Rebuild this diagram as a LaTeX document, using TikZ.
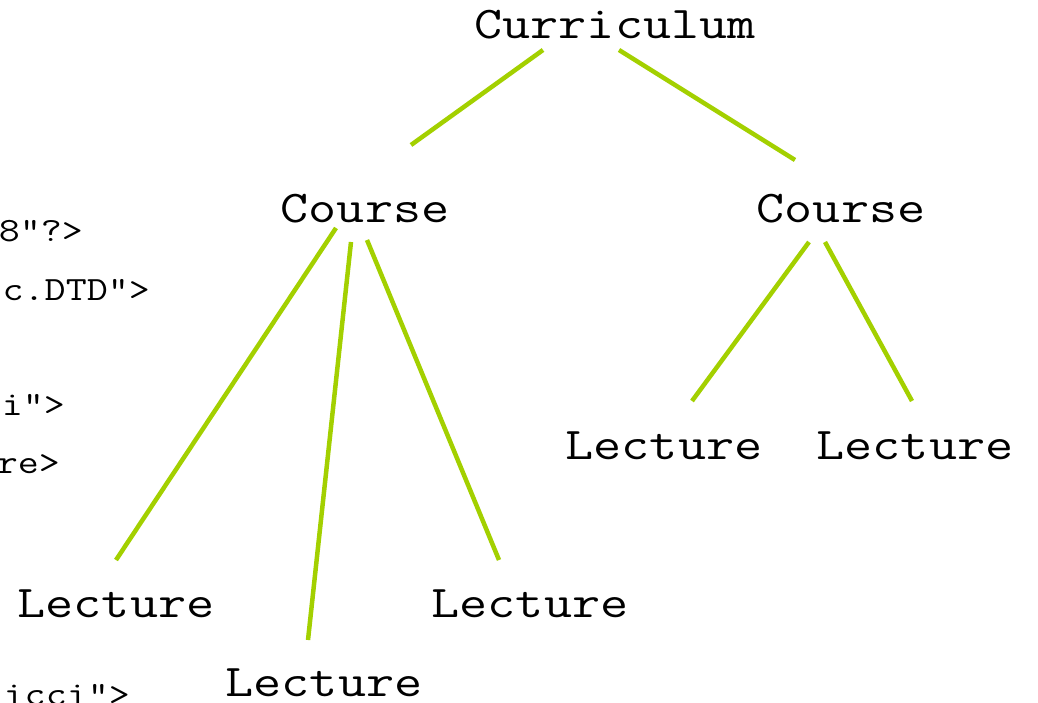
\documentclass[tikz,border=0pt]{standalone}
\usepackage{fontspec}
\definecolor{linegreen}{RGB}{163,208,0}
\newcommand{\stretchtxt}[1]{\scalebox{1.2}[1.0]{#1}}
\begin{document}
\begin{tikzpicture}[x=1pt,y=-1pt,
  big/.style={font=\ttfamily\fontsize{45.4}{50}\selectfont, inner sep=0pt, anchor=base},
  code/.style={font=\ttfamily\fontsize{34}{40}\selectfont, inner sep=0pt, anchor=base east},
  edge/.style={draw=linegreen, line width=4.5pt}]
\useasboundingbox (0,0) rectangle (1038,703);
% code text on the left
\node[code] (t1) at (83,242) {\stretchtxt{8"?>}};
\node[code] (t2) at (150,300) {\stretchtxt{c.DTD">}};
\node[code] (t3) at (65,415) {\stretchtxt{i">}};
\node[code] (t4) at (60,473) {\stretchtxt{re>}};
\node[code] (t5) at (130,705) {\stretchtxt{icci">}};
% tree labels
\node[big] (cur) at (615,39) {\stretchtxt{Curriculum}};
\node[big] (c1) at (365,223) {\stretchtxt{Course}};
\node[big] (c2) at (841,223) {\stretchtxt{Course}};
\node[big] (l1) at (116,617) {\stretchtxt{Lecture}};
\node[big] (l2) at (324,696) {\stretchtxt{Lecture}};
\node[big] (l3) at (530,617) {\stretchtxt{Lecture}};
\node[big] (l4) at (664,459) {\stretchtxt{Lecture}};
\node[big] (l5) at (915,459) {\stretchtxt{Lecture}};
% connector ends
\coordinate (curA) at (543,50);
\coordinate (curB) at (619,50);
\coordinate (c1top) at (411,145);
\coordinate (c2top) at (795,160);
\coordinate (c1a) at (336,228);
\coordinate (c1b) at (351,242);
\coordinate (c1c) at (367,240);
\coordinate (c2a) at (809,242);
\coordinate (c2b) at (825,242);
\coordinate (l1top) at (116,560);
\coordinate (l2top) at (308,640);
\coordinate (l3top) at (499,560);
\coordinate (l4top) at (692,401);
\coordinate (l5top) at (912,401);
\path[edge] (curA) -- (c1top);
\path[edge] (curB) -- (c2top);
\path[edge] (c1a) -- (l1top);
\path[edge] (c1b) -- (l2top);
\path[edge] (c1c) -- (l3top);
\path[edge] (c2a) -- (l4top);
\path[edge] (c2b) -- (l5top);
\end{tikzpicture}
\end{document}
